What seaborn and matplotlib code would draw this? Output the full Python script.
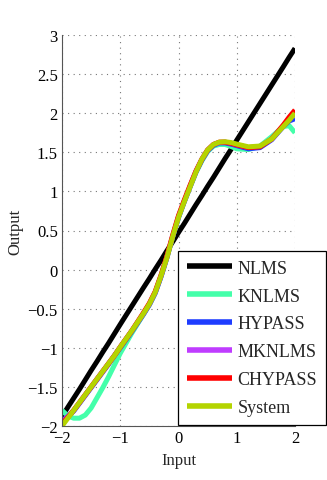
import numpy as np
import pandas as pd
import matplotlib
matplotlib.use("Agg")
import matplotlib.pyplot as plt
import seaborn as sns

# ---- data ----
x_in = [-2.0, -1.9, -1.8, -1.7, -1.6, -1.5, -1.4, -1.3, -1.2, -1.1, -1.0, -0.8, -0.6,
        -0.5, -0.4, -0.3, -0.2, -0.1, 0.0, 0.1, 0.2, 0.3, 0.4, 0.5, 0.6, 0.7, 0.8, 0.9,
        1.0, 1.2, 1.4, 1.6, 1.8, 1.9, 2.0]

nlms = [-1.88, -1.76, -1.645, -1.53, -1.41, -1.29, -1.175, -1.055, -0.94, -0.82, -0.70,
        -0.465, -0.23, -0.115, 0.005, 0.12, 0.24, 0.355, 0.475, 0.59, 0.71, 0.83, 0.945,
        1.065, 1.18, 1.30, 1.42, 1.535, 1.655, 1.89, 2.125, 2.36, 2.595, 2.715, 2.83]
knlms = [-1.80, -1.87, -1.90, -1.90, -1.86, -1.77, -1.64, -1.51, -1.37, -1.22, -1.07,
         -0.81, -0.57, -0.45, -0.30, -0.09, 0.15, 0.42, 0.66, 0.87, 1.06, 1.24, 1.39,
         1.51, 1.58, 1.60, 1.60, 1.575, 1.545, 1.535, 1.58, 1.70, 1.83, 1.84, 1.75]
hypass = [-1.93, -1.88, -1.81, -1.71, -1.61, -1.51, -1.41, -1.31, -1.21, -1.10, -1.00,
          -0.79, -0.57, -0.45, -0.30, -0.09, 0.15, 0.42, 0.67, 0.87, 1.06, 1.25, 1.40,
          1.52, 1.59, 1.62, 1.62, 1.605, 1.585, 1.545, 1.56, 1.66, 1.83, 1.90, 1.93]
mknlms = [-1.95, -1.88, -1.80, -1.70, -1.60, -1.50, -1.40, -1.30, -1.20, -1.10, -0.99,
          -0.78, -0.56, -0.44, -0.29, -0.08, 0.16, 0.43, 0.68, 0.88, 1.07, 1.26, 1.41,
          1.53, 1.60, 1.625, 1.63, 1.615, 1.595, 1.56, 1.575, 1.67, 1.84, 1.93, 2.01]
chypass = [-1.97, -1.89, -1.80, -1.70, -1.60, -1.50, -1.40, -1.30, -1.20, -1.10, -0.99,
           -0.78, -0.55, -0.43, -0.28, -0.07, 0.17, 0.44, 0.69, 0.89, 1.08, 1.26, 1.41,
           1.53, 1.60, 1.63, 1.63, 1.615, 1.595, 1.56, 1.57, 1.67, 1.85, 1.95, 2.04]
system = [-2.00, -1.90, -1.80, -1.70, -1.60, -1.50, -1.40, -1.30, -1.20, -1.10, -0.99,
          -0.78, -0.56, -0.44, -0.29, -0.08, 0.15, 0.42, 0.67, 0.87, 1.06, 1.25, 1.41,
          1.53, 1.60, 1.63, 1.635, 1.625, 1.605, 1.57, 1.58, 1.67, 1.83, 1.91, 2.00]

series_names = ["NLMS", "KNLMS", "HYPASS", "MKNLMS", "CHYPASS", "System"]
series_vals = [nlms, knlms, hypass, mknlms, chypass, system]
colors = ["#000000", "#44FFAA", "#1E3CFF", "#BF3CFF", "#FF0000", "#B4D400"]

x_ticks = [-2, -1, 0, 1, 2]
y_ticks = [-2, -1.5, -1, -0.5, 0, 0.5, 1, 1.5, 2, 2.5, 3]
y_tick_labels = ["\u22122", "\u22121.5", "\u22121", "\u22120.5", "0", "0.5", "1", "1.5", "2", "2.5", "3"]
x_tick_labels = ["\u22122", "\u22121", "0", "1", "2"]

# ---- build long-form table ----
df = pd.concat([pd.DataFrame({"Input": x_in, "Output": v, "Method": n})
                for n, v in zip(series_names, series_vals)], ignore_index=True)

sns.set_style("white")
plt.rcParams["font.family"] = ["Liberation Serif", "DejaVu Serif"]
plt.rcParams["axes.unicode_minus"] = True

fig = plt.figure(figsize=(3.27, 4.81), dpi=100)
ax = fig.add_axes([62/327, 1-427/481, (295-62)/327, (427-36)/481])

sns.lineplot(data=df, x="Input", y="Output", hue="Method", hue_order=series_names,
             palette=dict(zip(series_names, colors)), linewidth=3.6, ax=ax,
             estimator=None, sort=True, legend=True)
for ln in ax.get_lines():
    ln.set_solid_capstyle("butt")
    ln.set_solid_joinstyle("round")

ax.set_xlim(-2, 2)
ax.set_ylim(-2, 3)
ax.set_xticks(x_ticks)
ax.set_xticklabels(x_tick_labels)
ax.set_yticks(y_ticks)
ax.set_yticklabels(y_tick_labels)
ax.tick_params(direction="in", length=3, width=0.6, labelsize=12, colors="#333333",
               labelcolor="black", pad=3)
ax.grid(True, linestyle=(0, (1, 4)), color="#777777", linewidth=0.8)
for s in ["top", "right"]:
    ax.spines[s].set_visible(False)
for s in ["left", "bottom"]:
    ax.spines[s].set_color("#555555")
    ax.spines[s].set_linewidth(0.8)
ax.set_xlabel("Input", fontsize=12, labelpad=4)
ax.set_ylabel("Output", fontsize=12, labelpad=3)

handles, labels = ax.get_legend_handles_labels()
ax.get_legend().remove()
for h in handles:
    h.set_linewidth(4)
leg = ax.legend(handles, labels, loc="lower right",
                bbox_to_anchor=(326/327, 1-426/481), bbox_transform=fig.transFigure,
                borderaxespad=0, fontsize=13, handlelength=2.5, handletextpad=0.3,
                labelspacing=0.6, borderpad=0.5, fancybox=False, framealpha=1,
                edgecolor="black")
leg.get_frame().set_linewidth(0.9)

fig.savefig("out.png", dpi=100)
